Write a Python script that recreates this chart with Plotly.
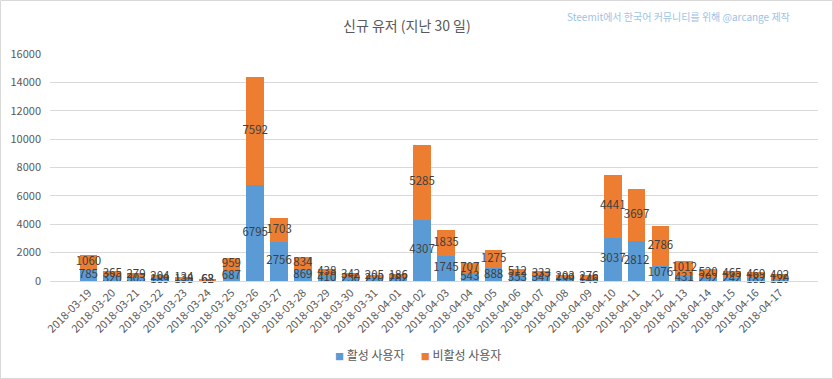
import plotly.graph_objects as go

dates = ["2018-03-19", "2018-03-20", "2018-03-21", "2018-03-22", "2018-03-23", "2018-03-24",
         "2018-03-25", "2018-03-26", "2018-03-27", "2018-03-28", "2018-03-29", "2018-03-30",
         "2018-03-31", "2018-04-01", "2018-04-02", "2018-04-03", "2018-04-04", "2018-04-05",
         "2018-04-06", "2018-04-07", "2018-04-08", "2018-04-09", "2018-04-10", "2018-04-11",
         "2018-04-12", "2018-04-13", "2018-04-14", "2018-04-15", "2018-04-16", "2018-04-17"]
active = [785, 320, 303, 189, 138, 62, 687, 6795, 2756, 869, 410, 250, 220, 282, 4307, 1745,
          543, 888, 353, 347, 199, 146, 3037, 2812, 1076, 431, 292, 242, 182, 120]
inactive = [1060, 365, 279, 204, 134, 68, 959, 7592, 1703, 834, 438, 342, 205, 186, 5285, 1835,
            707, 1275, 512, 333, 203, 276, 4441, 3697, 2786, 1012, 520, 465, 469, 402]
y_ticks = [0, 2000, 4000, 6000, 8000, 10000, 12000, 14000, 16000]
y_tick_labels = ["0", "2000", "4000", "6000", "8000", "10000", "12000", "14000", "16000"]

title_text = "신규 유저 (지난 30 일)"
credit_text = "Steemit에서 한국어 커뮤니티를 위해 @arcange 제작"
name_active = "활성 사용자"
name_inactive = "비활성 사용자"

BLUE = "#5B9BD5"
ORANGE = "#ED7D31"
LABEL = "#404040"
AXIS = "#595959"
GRID = "#D9D9D9"
FONT = "Noto Sans CJK KR"

fig = go.Figure()
fig.add_trace(go.Bar(x=dates, y=active, name=name_active, marker_color=BLUE,
                     marker_line_width=0, showlegend=False))
fig.add_trace(go.Bar(x=dates, y=inactive, name=name_inactive, marker_color=ORANGE,
                     marker_line_width=0, showlegend=False))

# data labels centred in each segment
mid_active = [a / 2 for a in active]
mid_inactive = [a + b / 2 for a, b in zip(active, inactive)]
fig.add_trace(go.Scatter(x=dates, y=mid_active, mode="text", text=[str(v) for v in active],
                         textfont=dict(color=LABEL, size=11.5, family=FONT),
                         showlegend=False, hoverinfo="skip", cliponaxis=False))
fig.add_trace(go.Scatter(x=dates, y=mid_inactive, mode="text", text=[str(v) for v in inactive],
                         textfont=dict(color=LABEL, size=11.5, family=FONT),
                         showlegend=False, hoverinfo="skip", cliponaxis=False))

W, H = 833, 379
L, R, T, B = 50, 15, 54, 98
pw, ph = W - L - R, H - T - B

def px_x(p):
    return (p - L) / pw

def px_y(p):
    return (H - B - p) / ph

legend_text = (f"<span style='color:{BLUE};font-size:9px'>■</span> {name_active}"
               f"      <span style='color:{ORANGE};font-size:9px'>■</span> {name_inactive}")

fig.update_layout(
    width=W, height=H,
    margin=dict(l=L, r=R, t=T, b=B, autoexpand=False),
    paper_bgcolor="white", plot_bgcolor="white",
    barmode="stack", bargap=0.26,
    font=dict(family=FONT, color=AXIS, size=11),
    showlegend=False,
    xaxis=dict(type="category", tickangle=-45, tickfont=dict(size=11, color=AXIS),
               showgrid=False, showline=True, linecolor=GRID, linewidth=1, ticks="",
               automargin=False),
    yaxis=dict(range=[0, 16000], tickvals=y_ticks, ticktext=y_tick_labels, showgrid=True,
               gridcolor=GRID, gridwidth=1, zeroline=False, showline=False, ticks="",
               tickfont=dict(size=11, color=AXIS), ticklabelstandoff=8, automargin=False),
    annotations=[
        dict(text=title_text, x=px_x(407), y=px_y(25), xref="paper", yref="paper",
             xanchor="center", yanchor="middle", showarrow=False,
             font=dict(size=14, color=AXIS, family=FONT)),
        dict(text=credit_text, x=px_x(792), y=px_y(16), xref="paper", yref="paper",
             xanchor="right", yanchor="middle", showarrow=False,
             font=dict(size=10, color="#9DC3E6", family=FONT)),
        dict(text=legend_text, x=px_x(418), y=px_y(355), xref="paper", yref="paper",
             xanchor="center", yanchor="middle", showarrow=False,
             font=dict(size=12, color=AXIS, family=FONT)),
    ],
    shapes=[dict(type="rect", xref="paper", yref="paper",
                 x0=px_x(0.5), x1=px_x(W - 0.5), y0=px_y(H - 0.5), y1=px_y(0.5),
                 line=dict(color=GRID, width=1), fillcolor="rgba(0,0,0,0)", layer="below")],
)

fig.write_html("out.html", config={"displayModeBar": False},
               post_script="document.body.style.margin='0';document.body.style.overflow='hidden';")
